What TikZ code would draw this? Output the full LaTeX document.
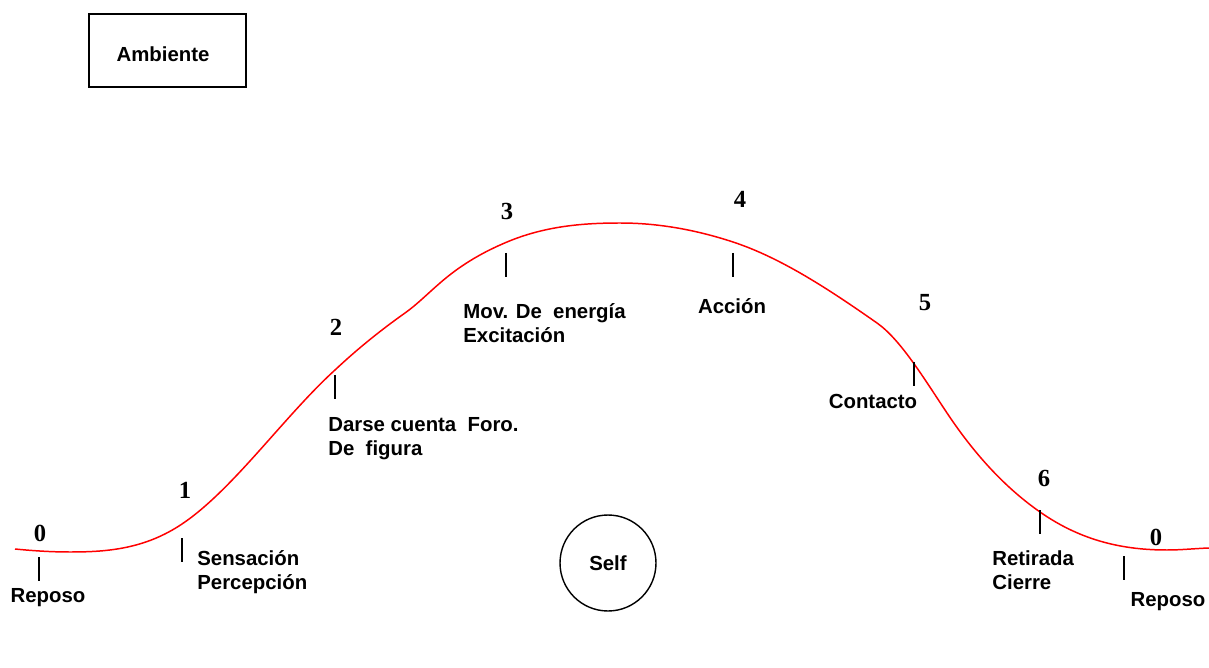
\documentclass[tikz,border=0pt]{standalone}
\usepackage{fontspec}
\setmainfont{Liberation Sans}
\newfontfamily\numfont{Liberation Serif}
\usepackage{tikz}

\begin{document}
\begin{tikzpicture}
	[x=0.02cm,y=-0.02cm,
	curve/.style = {
		draw=red, line width=0.85pt
	},
	tick/.style = {
		line width=0.7pt
	},
	num/.style = {
		inner sep=0pt, font=\numfont\bfseries\fontsize{14}{16}\selectfont
	},
	lbl/.style = {
		inner sep=0pt, align=left, font=\bfseries\fontsize{11.6}{13.6}\selectfont
	},
	box/.style = {
		draw, line width=1.1pt, minimum width=3.14cm, minimum height=1.46cm
	},
	circ/.style = {
		draw, circle, line width=0.8pt, inner sep=0pt, minimum size=1.92cm,
		font=\bfseries\fontsize{11.6}{13}\selectfont
	}]
	\useasboundingbox (0,0) rectangle (1209,668);
	
	%Draw nodes
	\node[box] at (167.5,50.5) (amb) {};
	\node[lbl] at (163,54) (ambtxt) {Ambiente};
	\node[circ] at (608,563) (self) {Self};
	
	\node[num] at (40,533) (n0) {0};
	\node[num] at (185,490) (n1) {1};
	\node[num] at (336,327) (n2) {2};
	\node[num] at (507,211) (n3) {3};
	\node[num] at (740,199) (n4) {4};
	\node[num] at (925,303) (n5) {5};
	\node[num] at (1044,478) (n6) {6};
	\node[num] at (1156,537) (n0b) {0};
	
	\node[lbl] at (48,598) (reposo) {Reposo};
	\node[lbl,anchor=west] at (197,572) (sens) {Sensación\\Percepción};
	\node[lbl,anchor=west] at (328,439) (darse) {Darse cuenta \ Foro.\\De \ figura};
	\node[lbl,anchor=west] at (463,323) (mov) {Mov. De \ energía\\Excitación};
	\node[lbl] at (732,306) (accion) {Acción};
	\node[lbl] at (873,401) (contacto) {Contacto};
	\node[lbl,anchor=west] at (992,570) (retirada) {Retirada\\Cierre};
	\node[lbl] at (1168,602) (reposob) {Reposo};
	
	\coordinate (t0) at (39,557);
	\coordinate (t1) at (182,538);
	\coordinate (t2) at (335,375);
	\coordinate (t3) at (506,253);
	\coordinate (t4) at (733,253);
	\coordinate (t5) at (914,362);
	\coordinate (t6) at (1040,510);
	\coordinate (t0b) at (1124,556);
	
	%Draw curve
	\draw[curve] (15,549)
		.. controls (33.3,550.8) and (51.7,552) .. (70,552)
		.. controls (107.3,552) and (144.7,549) .. (182,524)
		.. controls (233,489.8) and (284,416.4) .. (335,370)
		.. controls (358.3,348.1) and (381.7,329.5) .. (405,313)
		.. controls (416.7,304.8) and (428.3,293) .. (440,283)
		.. controls (462.3,263.5) and (484.7,251.4) .. (507,242)
		.. controls (544.7,226.2) and (582.3,223) .. (620,223)
		.. controls (657.7,223) and (695.3,229.6) .. (733,242)
		.. controls (781,257.8) and (829,289.4) .. (877,323)
		.. controls (900.3,339.3) and (923.7,378) .. (947,413)
		.. controls (978,459.5) and (1009,490.3) .. (1040,512)
		.. controls (1082.3,541.6) and (1124.7,550) .. (1167,550)
		.. controls (1181,550) and (1195,548.5) .. (1209,548);
	
	%Draw ticks
	\foreach \t in {t0,t1,t2,t3,t4,t5,t6,t0b}
		\draw[tick] (\t) -- ++(0,24);
	
\end{tikzpicture}
\end{document}
